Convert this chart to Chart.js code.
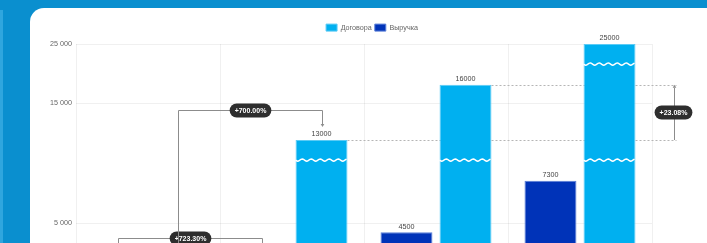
<!DOCTYPE html>
<html>
<head>
<meta charset="utf-8">
<script src="https://cdn.jsdelivr.net/npm/chart.js@4.4.1/dist/chart.umd.min.js"></script>
<style>
html, body { margin: 0; padding: 0; overflow: hidden; }
body { width: 707px; height: 243px; background: #0a8fcf; position: relative; }
#edge { position: absolute; left: 0; top: 10px; width: 3px; height: 400px; background: #2fa6de; }
#card { position: absolute; left: 30px; top: 8px; width: 720px; height: 420px; background: #fff; border-radius: 14px; }
#chart { position: absolute; left: 0; top: 0; }
</style>
</head>
<body>
<div id="edge"></div>
<div id="card"><canvas id="chart" width="677" height="340"></canvas></div>
<script>
var categories = ['2021', '2022', '2023', '2024'];
var revenue = [309, 2544, 4500, 7300];        // Выручка
var contracts = [1625, 13000, 16000, 25000];  // Договора
var yTicks = [5000, 15000, 25000];
var axisBreaks = [[8420, 11910], [17130, 23910]]; // value ranges cut out of the axis

// which pairs get a % bracket (dataset index, from category, to category)
var brackets = [{ ds: 0, from: 0, to: 1 }, { ds: 1, from: 0, to: 1 }];
var sideCompare = { ds: 1, from: 1, to: 2 };

// real value -> plotted value (breaks squeezed out)
function toPlot(v) {
    var p = v;
    axisBreaks.forEach(function(b) {
        if (v >= b[1]) p -= b[1] - b[0];
        else if (v > b[0]) p -= v - b[0];
    });
    return p;
}

function pct(a, b) {
    var d = (b - a) / a * 100;
    return (d >= 0 ? '+' : '') + d.toFixed(2) + '%';
}

function fmt(v) {
    return String(v).replace(/\B(?=(\d{3})+(?!\d))/g, ' ');
}

function drawWave(ctx, x1, x2, y) {
    ctx.save();
    ctx.strokeStyle = '#fff';
    ctx.lineWidth = 1.5;
    ctx.beginPath();
    for (var x = x1; x <= x2; x += 1) {
        var yy = y + Math.sin((x - x1) / 9 * Math.PI * 2) * 1.1;
        if (x === x1) ctx.moveTo(x, yy); else ctx.lineTo(x, yy);
    }
    ctx.stroke();
    ctx.restore();
}

function drawPill(ctx, text, cx, cy) {
    ctx.save();
    ctx.font = 'bold 7px Arial';
    var w = ctx.measureText(text).width + 10, h = 14;
    ctx.fillStyle = '#2e2e2e';
    ctx.beginPath();
    ctx.roundRect(cx - w / 2, cy - h / 2, w, h, 7);
    ctx.fill();
    ctx.fillStyle = '#fff';
    ctx.textAlign = 'center';
    ctx.textBaseline = 'middle';
    ctx.fillText(text, cx, cy + 0.5);
    ctx.restore();
}

function arrow(ctx, x, y, dir) { // dir 1 = pointing down, -1 = up
    ctx.beginPath();
    ctx.moveTo(x, y);
    ctx.lineTo(x - 1.8, y - dir * 3);
    ctx.lineTo(x + 1.8, y - dir * 3);
    ctx.closePath();
    ctx.fill();
}

var extras = {
    id: 'extras',
    afterInit: function(chart) {
        if (!chart.legend) return;
        var fit = chart.legend.fit;
        chart.legend.fit = function() {
            fit.call(this);
            this.height = 23;
        };
    },
    afterLayout: function(chart) {
        chart.legend.left += 31;
        chart.legend.right += 31;
    },
    beforeDatasetsDraw: function(chart) {
        var ctx = chart.ctx;
        var meta = chart.getDatasetMeta(sideCompare.ds);
        var A = meta.data[sideCompare.from], B = meta.data[sideCompare.to];
        var x = Math.round(chart.chartArea.right + 22) + 0.5;
        ctx.save();
        ctx.strokeStyle = '#b5b5b5';
        ctx.lineWidth = 1;
        ctx.setLineDash([2, 2]);
        [A, B].forEach(function(bar) {
            var y = Math.round(bar.y) + 0.5;
            ctx.beginPath();
            ctx.moveTo(bar.x + bar.width / 2, y);
            ctx.lineTo(x + 2, y);
            ctx.stroke();
        });
        ctx.restore();
    },
    afterDatasetsDraw: function(chart) {
        var ctx = chart.ctx, ys = chart.scales.y;
        // axis break waves
        chart.data.datasets.forEach(function(ds, d) {
            chart.getDatasetMeta(d).data.forEach(function(bar, i) {
                axisBreaks.forEach(function(b) {
                    if (ds.real[i] > b[1]) {
                        drawWave(ctx, bar.x - bar.width / 2, bar.x + bar.width / 2, ys.getPixelForValue(toPlot(b[0])));
                    }
                });
            });
        });
        // value labels
        ctx.save();
        ctx.font = '7.2px Arial';
        ctx.fillStyle = '#444';
        ctx.textAlign = 'center';
        ctx.textBaseline = 'bottom';
        chart.data.datasets.forEach(function(ds, d) {
            chart.getDatasetMeta(d).data.forEach(function(bar, i) {
                ctx.fillText(ds.real[i], bar.x, bar.y - 2);
            });
        });
        ctx.restore();
        // brackets
        ctx.save();
        ctx.strokeStyle = '#8c8c8c';
        ctx.fillStyle = '#8c8c8c';
        ctx.lineWidth = 1;
        brackets.forEach(function(br) {
            var meta = chart.getDatasetMeta(br.ds);
            var real = chart.data.datasets[br.ds].real;
            var A = meta.data[br.from], B = meta.data[br.to];
            var lvl = Math.round(Math.min(A.y, B.y) - 30) + 0.5;
            var ax = Math.round(A.x) + 0.5, bx = Math.round(B.x) + 0.5;
            ctx.beginPath();
            ctx.moveTo(ax, A.y - 12);
            ctx.lineTo(ax, lvl);
            ctx.lineTo(bx, lvl);
            ctx.lineTo(bx, B.y - 16);
            ctx.stroke();
            arrow(ctx, bx, B.y - 13, 1);
            drawPill(ctx, pct(real[br.from], real[br.to]), (ax + bx) / 2, lvl);
        });
        // side comparison
        var meta = chart.getDatasetMeta(sideCompare.ds);
        var real = chart.data.datasets[sideCompare.ds].real;
        var A = meta.data[sideCompare.from], B = meta.data[sideCompare.to];
        var x = Math.round(chart.chartArea.right + 22) + 0.5;
        ctx.beginPath();
        ctx.moveTo(x, A.y);
        ctx.lineTo(x, B.y + 3);
        ctx.stroke();
        arrow(ctx, x, B.y, -1);
        drawPill(ctx, pct(real[sideCompare.from], real[sideCompare.to]), x - 1, (A.y + B.y) / 2);
        ctx.restore();
    }
};

Chart.defaults.font.family = 'Arial';
Chart.defaults.font.size = 7.2;
Chart.defaults.color = '#666';

var ctx = document.getElementById('chart').getContext('2d');
var myChart = new Chart(ctx, {
    type: 'bar',
    data: {
        labels: categories,
        datasets: [{
            label: 'Выручка',
            data: revenue.map(toPlot),
            real: revenue,
            backgroundColor: '#0033b8',
            borderColor: '#5a7fd8',
            borderWidth: 1
        }, {
            label: 'Договора',
            data: contracts.map(toPlot),
            real: contracts,
            backgroundColor: '#00b0f0',
            borderColor: '#5ccbf5',
            borderWidth: 1
        }]
    },
    options: {
        responsive: false,
        animation: false,
        categoryPercentage: 0.82,
        barPercentage: 0.88,
        layout: { padding: { top: 13, right: 55, left: 0, bottom: 0 } },
        plugins: {
            legend: {
                reverse: true,
                labels: { boxWidth: 11, boxHeight: 7, padding: 3, color: '#666' }
            },
            tooltip: { enabled: false }
        },
        scales: {
            x: {
                grid: { color: 'rgba(0,0,0,0.06)', drawTicks: false, offset: true },
                border: { display: false },
                afterFit: function(s) { s.height = 33; }
            },
            y: {
                min: 0,
                max: toPlot(25000),
                grid: { color: 'rgba(0,0,0,0.06)', drawTicks: false },
                border: { display: false },
                ticks: {
                    padding: 4,
                    callback: function(value, index) { return fmt(yTicks[index]); }
                },
                afterBuildTicks: function(s) {
                    s.ticks = yTicks.map(function(v) { return { value: toPlot(v) }; });
                },
                afterFit: function(s) { s.width = 46; }
            }
        }
    },
    plugins: [extras]
});
</script>
</body>
</html>
